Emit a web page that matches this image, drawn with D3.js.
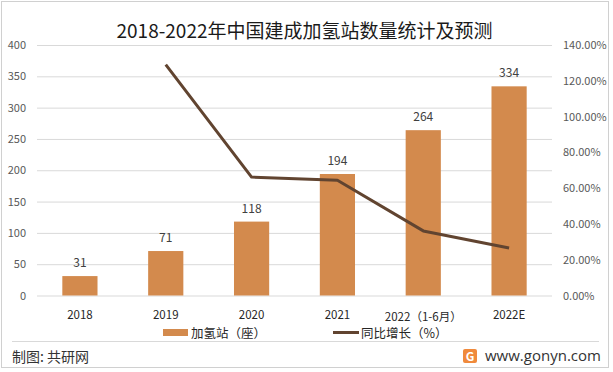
<!DOCTYPE html>
<html>
<head>
<meta charset="utf-8">
<script src="https://cdn.jsdelivr.net/npm/d3@7"></script>
<style>
  body { margin: 0; background: #fff; }
  svg { display: block; font-family: "Noto Sans CJK SC", "Noto Sans", sans-serif; }
</style>
</head>
<body>
<svg width="613" height="372"></svg>
<script>
const years = ["2018", "2019", "2020", "2021", "2022（1-6月）", "2022E"];
const stations = [31, 71, 118, 194, 264, 334];
const growth = [null, 1.29, 0.662, 0.644, 0.361, 0.265];
const leftTicks = [0, 50, 100, 150, 200, 250, 300, 350, 400];
const rightTicks = [0, 0.2, 0.4, 0.6, 0.8, 1.0, 1.2, 1.4];

const svg = d3.select("svg");
const barColor = "#d38a4d",
      lineColor = "#614430",
      gridColor = "#d9d9d9",
      tickColor = "#595959";

const plotLeft = 37, plotRight = 552, plotTop = 45, plotBottom = 295.5;

// outer frame
svg.append("rect")
  .attr("x", 1.5).attr("y", 1.5)
  .attr("width", 607).attr("height", 366)
  .attr("fill", "#fff")
  .attr("stroke", "#d0d0d0");

// title
svg.append("text")
  .attr("x", 304.5).attr("y", 38)
  .attr("text-anchor", "middle")
  .attr("font-size", 19)
  .attr("fill", "#1a1a1a")
  .text("2018-2022年中国建成加氢站数量统计及预测");

const x = d3.scaleBand().domain(years).range([plotLeft, plotRight])
  .paddingInner(0.59).paddingOuter(0.295);
const y = d3.scaleLinear().domain([0, 400]).range([plotBottom, plotTop]);
const y2 = d3.scaleLinear().domain([0, 1.4]).range([plotBottom, plotTop]);

// left axis + grid
const gl = svg.append("g")
  .attr("transform", "translate(" + plotLeft + ",0)")
  .call(d3.axisLeft(y).tickValues(leftTicks).tickSize(-(plotRight - plotLeft)).tickPadding(11));
gl.select(".domain").remove();
gl.selectAll(".tick line").attr("stroke", gridColor);
gl.selectAll(".tick text").attr("font-size", 11).attr("fill", tickColor)
  .attr("font-family", "Noto Sans CJK SC");

// right axis
const gr = svg.append("g")
  .attr("transform", "translate(" + plotRight + ",0)")
  .call(d3.axisRight(y2).tickValues(rightTicks).tickSize(0).tickPadding(11)
    .tickFormat(d => (d * 100).toFixed(2) + "%"));
gr.select(".domain").remove();
gr.selectAll(".tick text").attr("font-size", 11).attr("fill", tickColor)
  .attr("font-family", "Noto Sans CJK SC");

// bottom axis labels
const gx = svg.append("g")
  .attr("transform", "translate(0," + plotBottom + ")")
  .call(d3.axisBottom(x).tickSize(0).tickPadding(0));
gx.select(".domain").remove();
gx.selectAll(".tick text")
  .attr("font-size", 11.5)
  .attr("fill", "#262626")
  .attr("font-family", "Noto Sans CJK SC")
  .attr("dy", null)
  .attr("y", (d, i) => i === 4 ? 25.5 : 23);

// bars
svg.append("g").selectAll("rect")
  .data(stations)
  .join("rect")
  .attr("x", (d, i) => x(years[i]))
  .attr("y", d => y(d))
  .attr("width", x.bandwidth())
  .attr("height", d => y(0) - y(d))
  .attr("fill", barColor);

// bar labels
svg.append("g").selectAll("text")
  .data(stations)
  .join("text")
  .attr("x", (d, i) => x(years[i]) + x.bandwidth() / 2)
  .attr("y", d => y(d) - 9)
  .attr("text-anchor", "middle")
  .attr("font-size", 12)
  .attr("fill", "#404040")
  .text(d => d);

// growth line
const line = d3.line()
  .defined(d => d != null)
  .x((d, i) => x(years[i]) + x.bandwidth() / 2)
  .y(d => y2(d));

svg.append("path")
  .datum(growth)
  .attr("fill", "none")
  .attr("stroke", lineColor)
  .attr("stroke-width", 3)
  .attr("stroke-linejoin", "round")
  .attr("d", line);

// legend
const lg = svg.append("g").attr("font-size", 12.5).attr("fill", "#262626");
lg.append("rect")
  .attr("x", 163).attr("y", 329).attr("width", 25).attr("height", 7)
  .attr("fill", barColor);
lg.append("text").attr("x", 191).attr("y", 338).text("加氢站（座）");
lg.append("line")
  .attr("x1", 333).attr("x2", 359).attr("y1", 332.5).attr("y2", 332.5)
  .attr("stroke", lineColor).attr("stroke-width", 3);
lg.append("text").attr("x", 361).attr("y", 338).text("同比增长（%）");

// footer
svg.append("line")
  .attr("x1", 12).attr("x2", 599).attr("y1", 341.5).attr("y2", 341.5)
  .attr("stroke", "#d9d9d9");
svg.append("text")
  .attr("x", 12).attr("y", 362)
  .attr("font-size", 14)
  .attr("fill", "#333")
  .text("制图: 共研网");

// logo
const logo = svg.append("g").attr("transform", "translate(463,349)");
logo.append("rect").attr("width", 14).attr("height", 14).attr("rx", 2).attr("fill", "#f08a3c");
logo.append("text")
  .attr("x", 7).attr("y", 11.5)
  .attr("text-anchor", "middle")
  .attr("font-size", 12).attr("font-weight", "bold")
  .attr("fill", "#fff")
  .text("G");
svg.append("text")
  .attr("x", 485).attr("y", 361)
  .attr("font-size", 15)
  .attr("font-family", "Open Sans, Noto Sans, sans-serif")
  .attr("fill", "#333")
  .text("www.gonyn.com");
</script>
</body>
</html>
